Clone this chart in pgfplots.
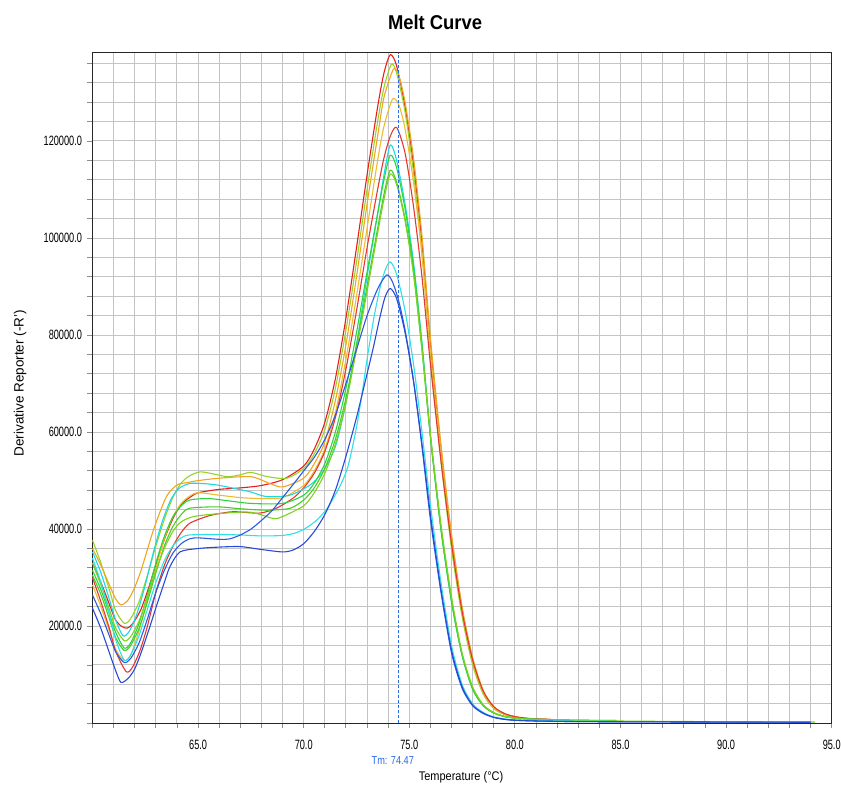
\documentclass[border=0pt]{standalone}
\usepackage{fontspec}
\setmainfont{Liberation Sans}
\newfontfamily\tickfont[FakeStretch=0.68]{Liberation Sans}
\newfontfamily\titlefont[FakeStretch=0.92]{Liberation Sans}
\newfontfamily\xlabfont[FakeStretch=0.88]{Liberation Sans}
\newfontfamily\tmfont[FakeStretch=0.8]{Liberation Sans}
\usepackage{pgfplots}
\pgfplotsset{compat=1.18}
\definecolor{rA}{RGB}{232,30,30}
\definecolor{rB}{RGB}{228,55,50}
\definecolor{oA}{RGB}{240,165,30}
\definecolor{oB}{RGB}{236,188,50}
\definecolor{ygA}{RGB}{150,212,40}
\definecolor{ygB}{RGB}{125,210,30}
\definecolor{gA}{RGB}{40,215,60}
\definecolor{gB}{RGB}{70,205,40}
\definecolor{cA}{RGB}{30,215,225}
\definecolor{cB}{RGB}{45,225,230}
\definecolor{bA}{RGB}{45,90,225}
\definecolor{bB}{RGB}{40,75,215}
\definecolor{tmblue}{RGB}{40,105,230}
\begin{document}
\begin{tikzpicture}
\useasboundingbox (-92.5pt,-66.8pt) rectangle (748.5pt,723.2pt);
\begin{axis}[
  scale only axis, width=739.2pt, height=670.5pt,
  xmin=60, xmax=95, ymin=0, ymax=138200,
  clip=false,
  axis line style={black!85, line width=1.3pt},
  xtick={65,70,...,95},
  minor xtick={60,61,...,95},
  ytick={20000,40000,...,120000},
  minor ytick={0,4000,...,136000},
  grid=both,
  major grid style={black!23, line width=1pt},
  minor grid style={black!23, line width=1pt},
  tick align=outside,
  major tick length=5pt, minor tick length=5pt,
  tick style={black!45, line width=0.9pt},
  xtick pos=left, ytick pos=left,
  scaled y ticks=false, scaled x ticks=false,
  /pgf/number format/assume math mode=true,
  xticklabel style={font=\tickfont\fontsize{13.5}{15}\selectfont,
    /pgf/number format/fixed, /pgf/number format/fixed zerofill,
    /pgf/number format/precision=1, yshift=-8pt},
  yticklabel style={font=\tickfont\fontsize{13.5}{15}\selectfont,
    /pgf/number format/fixed, /pgf/number format/fixed zerofill,
    /pgf/number format/precision=1, /pgf/number format/1000 sep={}, xshift=-2pt},
  every axis plot/.append style={line width=1.1pt, smooth, tension=0.45, line join=round, no markers},
]
% C1 red A
\addplot[rA] coordinates {(60,33000) (60.4,29000) (60.8,24500) (61.1,21200) (61.4,19900) (61.65,19600) (61.9,20500) (62.3,23500) (62.7,28500) (63.1,34000) (63.5,39000) (63.9,43000) (64.3,45500) (64.7,46800) (65,47500) (66,48200) (67,48500) (68,49000) (69,50200) (70,53000) (70.5,56500) (71,62000) (71.5,71000) (72,83500) (72.5,98000) (73,113000) (73.5,127000) (73.8,134000) (74.1,137800) (74.4,135500) (74.8,127000) (75.2,115000) (75.6,99000) (76,78000) (76.5,56000) (77,38000) (77.5,23500) (78,13000) (78.5,6500) (79,3300) (79.5,1900) (80,1300) (80.5,1000) (81,850) (81.7,750)};
% C2 yellow-green A
\addplot[ygA] coordinates {(60,37700) (60.4,33000) (60.8,27500) (61.1,23200) (61.5,20600) (61.8,21500) (62.2,25000) (62.6,30500) (63,36500) (63.4,42000) (63.8,46500) (64.2,49500) (64.6,51000) (65.1,51800) (65.7,51400) (66.4,50800) (67,51200) (67.5,51700) (68.3,50800) (69.2,50500) (70,52500) (70.5,55500) (71,60500) (71.5,69000) (72,81000) (72.5,95000) (73,110000) (73.5,124000) (73.8,131000) (74.15,135800) (74.4,134000) (74.8,126000) (75.2,113500) (75.6,97000) (76,76000) (76.5,54000) (77,36000) (77.5,22000) (78,12000) (78.5,6000) (79,3000) (79.5,1800) (80,1200) (80.5,950) (81,800) (81.7,700)};
% C3 orange A
\addplot[oA] coordinates {(60,36000) (60.4,32500) (60.8,28500) (61.1,25600) (61.35,24400) (61.65,25200) (61.95,27500) (62.3,31500) (62.9,40000) (63.5,46700) (64,49100) (64.5,49600) (65,50000) (66,50500) (67.5,50800) (68.4,49400) (69,48700) (70,50500) (70.5,53500) (71,58000) (71.5,66500) (72,78000) (72.5,92000) (73,107000) (73.5,121000) (73.8,129000) (74.25,134800) (74.5,133500) (74.8,128000) (75.2,116500) (75.6,100500) (76,79500) (76.5,57500) (77,39000) (77.5,24000) (78,13500) (78.5,6800) (79,3400) (79.5,2000) (80,1350) (80.5,1050) (81,880) (81.7,780)};
% C4 orange B
\addplot[oB] coordinates {(60,28500) (60.4,24000) (60.8,19000) (61.1,15200) (61.5,12900) (61.8,14000) (62.2,19000) (62.6,25500) (63,32000) (63.4,38000) (63.8,42500) (64.2,45300) (64.6,46800) (65,47500) (66,47000) (67,46500) (68,46300) (69,46500) (70,49000) (70.5,52000) (71,56500) (71.5,64000) (72,75000) (72.5,88000) (73,102000) (73.5,116000) (73.8,123000) (74.2,128600) (74.5,127500) (74.8,122500) (75.2,111500) (75.6,96500) (76,76500) (76.5,55500) (77,37500) (77.5,23000) (78,12800) (78.5,6400) (79,3200) (79.5,1900) (80,1300) (80.5,1000) (81,850) (81.7,750)};
% C5 red B
\addplot[rB] coordinates {(60,30000) (60.4,25000) (60.8,19500) (61.1,14800) (61.6,10600) (61.9,11600) (62.25,15000) (62.6,20000) (63,27000) (63.4,32500) (63.8,36400) (64.2,39300) (64.6,41200) (65.4,42600) (66,43200) (66.7,43600) (67.9,43300) (68.7,44300) (69.5,46400) (70,48500) (70.5,51500) (71,56000) (71.5,63000) (72,73000) (72.5,85000) (73,98000) (73.5,110000) (73.8,116500) (74.1,121000) (74.4,122800) (74.8,117500) (75.2,106500) (75.6,92000) (76,74000) (76.5,54000) (77,37000) (77.5,23000) (78,13000) (78.5,6600) (79,3400) (79.5,2000) (80,1350) (80.5,1050) (81,880) (81.7,780)};
% C6 cyan A
\addplot[cA] coordinates {(60,35300) (60.4,31000) (60.8,25500) (61.1,21200) (61.45,18000) (61.75,19000) (62.1,22500) (62.5,28500) (62.9,35500) (63.3,41500) (63.7,46000) (64.1,48400) (64.6,49400) (65.2,49400) (65.9,49100) (66.7,48400) (67.46,47700) (68.25,46700) (69.35,47000) (70.3,49100) (70.9,51800) (71.5,57000) (72,66000) (72.5,78000) (73,92000) (73.5,105000) (73.8,113000) (74.1,119200) (74.4,116000) (74.8,107000) (75.2,95000) (75.6,78500) (76,59500) (76.5,40000) (77,25000) (77.5,14000) (78,7000) (78.5,3600) (79,2100) (79.5,1400) (80,1050) (80.5,900) (81,800) (81.7,720)};
% C7 green A
\addplot[gA] coordinates {(60,31500) (60.4,27500) (60.8,22500) (61.1,18700) (61.5,15500) (61.8,16500) (62.2,20500) (62.6,26500) (63,33000) (63.4,38500) (63.8,42500) (64.2,44800) (64.6,46000) (65.5,46300) (66.5,45800) (67.5,45300) (69,45300) (70,47000) (70.5,49500) (71,53500) (71.5,60000) (72,69000) (72.5,80500) (73,93000) (73.5,105000) (73.8,112000) (74.1,117100) (74.4,114500) (74.8,106000) (75.2,94000) (75.6,78000) (76,59000) (76.5,40000) (77,25000) (77.5,14000) (78,7000) (78.5,3600) (79,2100) (79.5,1400) (80,1050) (80.5,900) (81,800) (82,700) (83,620) (84.8,550)};
% C8 green B
\addplot[gB] coordinates {(60,30500) (60.4,26500) (60.8,21500) (61.1,17600) (61.5,15000) (61.8,16000) (62.2,19500) (62.6,25000) (63,31000) (63.4,36500) (63.8,40500) (64.2,43000) (64.6,44300) (65.9,44600) (67,44200) (68.25,43900) (69.35,44300) (70,46000) (70.5,48500) (71,52500) (71.5,58500) (72,67000) (72.5,78000) (73,90000) (73.5,102000) (73.8,109000) (74.1,114000) (74.4,111500) (74.8,104000) (75.2,93000) (75.6,77000) (76,59000) (76.5,40000) (77,25500) (77.5,14200) (78,7200) (78.5,3700) (79,2100) (79.5,1400) (80,1050) (80.5,900) (81,800) (82,700) (83,620) (84.8,550)};
% C9 yellow-green B
\addplot[ygB] coordinates {(60,33000) (60.4,28500) (60.8,23500) (61.1,19600) (61.5,17000) (61.8,17800) (62.2,21000) (62.6,26000) (63,31500) (63.4,36000) (63.8,39500) (64.2,41500) (64.8,42600) (66,43200) (67.46,43500) (68.56,42200) (69,42600) (70,44800) (70.5,47500) (71,51500) (71.5,57500) (72,66000) (72.5,77000) (73,89000) (73.5,101000) (73.8,108000) (74.1,113200) (74.4,111000) (74.8,103500) (75.2,92500) (75.6,77000) (76,59500) (76.5,41000) (77,26000) (77.5,14500) (78,7500) (78.5,3800) (79,2200) (79.5,1400) (80,1050) (80.5,900) (81,780) (82,650) (83,550) (85,450) (88,350) (91,300) (94.2,250)};
% C10 cyan B (late)
\addplot[cB] coordinates {(60,34000) (60.4,29000) (60.8,22500) (61.1,17200) (61.5,13000) (61.8,14000) (62.2,18000) (62.6,23500) (63,29000) (63.4,33500) (63.8,36500) (64.2,38200) (64.6,38800) (66,38900) (67,38800) (68,38600) (69,38700) (69.6,39200) (70.1,40200) (70.6,41800) (71.1,44200) (71.7,48700) (72.1,53000) (72.5,61000) (72.8,69000) (73,75000) (73.3,83000) (73.6,89500) (73.85,93300) (74.1,95100) (74.4,92500) (74.8,85000) (75.2,74000) (75.6,60000) (76,45000) (76.5,29000) (77,16000) (77.5,8000) (78,4000) (78.5,2200) (79,1300) (79.5,900) (80,700) (81,550) (82,480) (83,430) (84.8,380)};
% C11 blue A (early)
\addplot[bA] coordinates {(60,26400) (60.4,22500) (60.8,18000) (61.1,14700) (61.5,12500) (61.8,13300) (62.2,16500) (62.6,21500) (63,27000) (63.4,31500) (63.8,35000) (64.2,37000) (64.6,38000) (65,38200) (66,37900) (66.5,38000) (67,38800) (67.5,40000) (68,41800) (68.5,43800) (69,46500) (69.5,49200) (70,52000) (70.5,54800) (71,58500) (71.5,63500) (72,70000) (72.5,77000) (73,84000) (73.5,89500) (73.93,92400) (74.2,91000) (74.5,87000) (74.8,81000) (75.2,70500) (75.6,57000) (76,42000) (76.5,27000) (77,14500) (77.5,7200) (78,3600) (78.5,2000) (79,1200) (79.5,800) (80,600) (81,450) (82,380) (83,330) (85,290) (88,250) (91,220) (94,200)};
% C12 blue B (late)
\addplot[bB] coordinates {(60,23700) (60.4,19500) (60.8,14500) (61.1,10800) (61.35,8400) (61.7,9300) (62,11200) (62.3,14500) (62.65,19000) (63.04,24300) (63.4,29000) (63.67,32300) (64.14,35300) (65,36000) (66,36300) (67,36400) (68,35800) (69,35300) (69.5,35700) (70,37000) (70.5,39500) (71,43000) (71.5,48000) (72,55000) (72.5,63000) (73,72000) (73.3,77500) (73.6,83500) (73.85,87800) (74.1,89600) (74.4,87500) (74.8,80500) (75.2,70500) (75.6,57500) (76,43000) (76.5,27500) (77,15000) (77.5,7500) (78,3700) (78.5,2100) (79,1200) (79.5,800) (80,600) (81,450) (82,380) (83,330) (85,290) (88,250) (91,220) (94,200)};
% Tm marker line
\addplot[tmblue, line width=0.8pt, dash pattern=on 3pt off 2pt, sharp plot] coordinates {(74.47,0) (74.47,138200)};
% texts
\node[font=\titlefont\bfseries\fontsize{20}{24}\selectfont] at (axis cs:76.22,144530) {Melt Curve};
\node[rotate=90, font=\fontsize{13.5}{16}\selectfont] at (axis cs:56.57,70070) {Derivative Reporter (-R')};
\node[font=\xlabfont\fontsize{12.5}{14}\selectfont] at (axis cs:77.45,-11100) {Temperature (°C)};
\node[font=\tmfont\fontsize{11.5}{13}\selectfont, text=tmblue] at (axis cs:74.22,-7600) {Tm: 74.47};
\end{axis}
\end{tikzpicture}
\end{document}
